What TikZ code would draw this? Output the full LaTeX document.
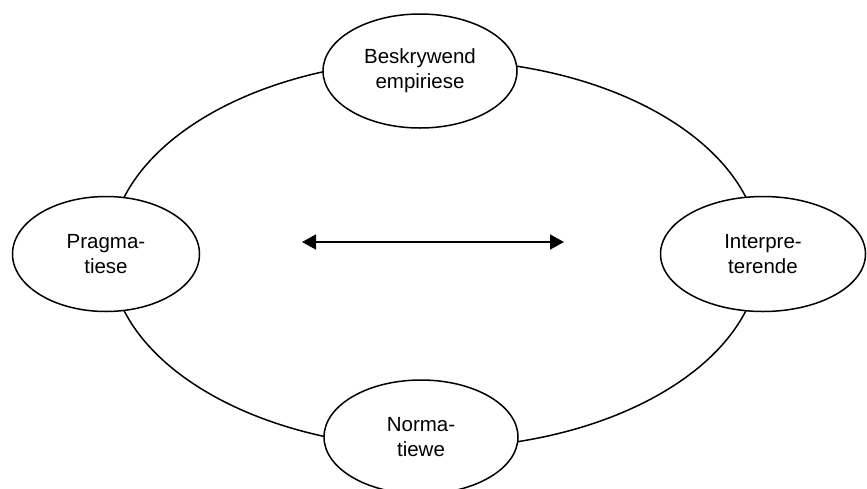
\documentclass[tikz,border=0pt]{standalone}
\usepackage{fontspec}
\setmainfont{Liberation Sans}
\usetikzlibrary{shapes.geometric, arrows.meta}

\begin{document}
\begin{tikzpicture}[x=1pt,y=-1pt,
    pole/.style={draw, line width=1.5pt, fill=white, ellipse, inner sep=0pt, align=center,
        font=\fontsize{20.5}{25}\selectfont}]
    \useasboundingbox (0,0) rectangle (867,488);

    \node (ring) [draw, line width=1.5pt, ellipse, minimum width=650pt, minimum height=388pt, inner sep=0pt] at (435,254) {};

    \node (top) [pole, minimum width=194pt, minimum height=114pt] at (420,71) {Beskrywend\\empiriese};
    \node (left) [pole, minimum width=187pt, minimum height=115pt] at (106,254) {Pragma-\\tiese};
    \node (right) [pole, minimum width=205pt, minimum height=115pt] at (763,254) {Interpre-\\terende};
    \node (bottom) [pole, minimum width=194pt, minimum height=114pt] at (421,437) {Norma-\\tiewe};

    \coordinate (l) at (302,242);
    \coordinate (r) at (564,242);
    \draw [line width=1.5pt, {Triangle[length=14pt,width=15pt]}-{Triangle[length=14pt,width=15pt]}] (l) -- (r);

\end{tikzpicture}
\end{document}
